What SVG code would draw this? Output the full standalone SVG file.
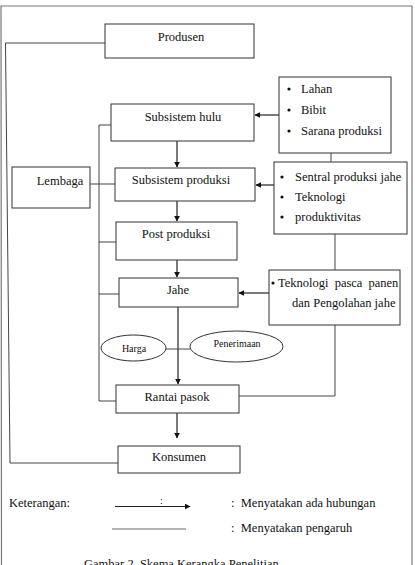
<svg xmlns="http://www.w3.org/2000/svg" width="415" height="565" viewBox="0 0 415 565">
<style>
.box{fill:#fff;stroke:#333;stroke-width:1}
.t{font-family:'Liberation Serif','Times New Roman','DejaVu Serif',serif;font-size:12.5px;fill:#111}
.s{font-family:'Liberation Serif','Times New Roman','DejaVu Serif',serif;font-size:10px;fill:#111}
.ln{fill:none;stroke:#444;stroke-width:1}
.ar{fill:none;stroke:#222;stroke-width:1.2;marker-end:url(#ah)}
.frame{fill:none;stroke:#777;stroke-width:1.2}
</style>
<defs>
<marker id="ah" viewBox="0 0 10 10" refX="9" refY="5" markerWidth="6" markerHeight="6" markerUnits="userSpaceOnUse" orient="auto">
<path d="M0,0 L10,5 L0,10 z" fill="#111"/>
</marker>
</defs>
<rect width="415" height="565" fill="#fff"/>
<g id="frame">
<polyline class="frame" points="1.5,565 1,6 412,6 412,565"/>
</g>
<g id="connectors">
<polyline class="ln" points="105,43 5.5,43 10,463 118,463"/>
<line class="ar" x1="279" y1="115" x2="255" y2="115"/>
<line class="ar" x1="177" y1="141" x2="177" y2="167"/>
<line class="ar" x1="274" y1="185" x2="256" y2="185"/>
<line class="ar" x1="177" y1="201" x2="177" y2="221"/>
<line class="ar" x1="177" y1="260" x2="177" y2="277"/>
<line class="ar" x1="269" y1="293" x2="239" y2="293"/>
<line class="ar" x1="178" y1="307" x2="178" y2="384"/>
<line class="ar" x1="177" y1="413" x2="177" y2="438"/>
<line class="ln" x1="331" y1="153" x2="331" y2="162"/>
<line class="ln" x1="335" y1="234" x2="335" y2="270"/>
<polyline class="ln" points="335,325 335,396 239,396"/>
<polyline class="ln" points="111,125 99,125 99,401 116,401"/>
<line class="ln" x1="90" y1="184" x2="115" y2="184"/>
<line class="ln" x1="99" y1="242" x2="116" y2="242"/>
<line class="ln" x1="99" y1="294" x2="119" y2="294"/>
<line class="ln" x1="166" y1="349" x2="190" y2="349"/>
</g>
<g id="produsen">
<rect class="box" x="105" y="24" width="149" height="34"/>
<text class="t" x="181" y="41" text-anchor="middle">Produsen</text>
</g>
<g id="input1">
<rect class="box" x="279" y="77" width="112" height="76"/>
<circle cx="289" cy="89" r="1.6" fill="#111"/>
<text class="t" x="301" y="93">Lahan</text>
<circle cx="289" cy="110" r="1.6" fill="#111"/>
<text class="t" x="301" y="114">Bibit</text>
<circle cx="289" cy="131" r="1.6" fill="#111"/>
<text class="t" x="301" y="135">Sarana produksi</text>
</g>
<g id="subsistem-hulu">
<rect class="box" x="111" y="104" width="143" height="37"/>
<text class="t" x="183" y="121" text-anchor="middle">Subsistem hulu</text>
</g>
<g id="lembaga">
<rect class="box" x="12" y="167" width="78" height="41"/>
<text class="t" x="60" y="185" text-anchor="middle">Lembaga</text>
</g>
<g id="subsistem-produksi">
<rect class="box" x="115" y="168" width="140" height="33"/>
<text class="t" x="181" y="184" text-anchor="middle">Subsistem produksi</text>
</g>
<g id="input2">
<rect class="box" x="274" y="162" width="133" height="72"/>
<circle cx="282" cy="177" r="1.6" fill="#111"/>
<text class="t" x="295" y="181">Sentral produksi jahe</text>
<circle cx="282" cy="197" r="1.6" fill="#111"/>
<text class="t" x="295" y="201">Teknologi</text>
<circle cx="282" cy="217" r="1.6" fill="#111"/>
<text class="t" x="295" y="221">produktivitas</text>
</g>
<g id="post-produksi">
<rect class="box" x="116" y="222" width="121" height="38"/>
<text class="t" x="176" y="238" text-anchor="middle">Post produksi</text>
</g>
<g id="jahe">
<rect class="box" x="119" y="278" width="119" height="29"/>
<text class="t" x="178" y="294" text-anchor="middle">Jahe</text>
</g>
<g id="input3">
<rect class="box" x="269" y="270" width="131" height="55"/>
<circle cx="273" cy="283" r="1.6" fill="#111"/>
<text class="t" x="278" y="287" word-spacing="3">Teknologi pasca panen</text>
<text class="t" x="292" y="307">dan Pengolahan jahe</text>
</g>
<g id="harga">
<ellipse class="box" cx="133.5" cy="348" rx="32.5" ry="13"/>
<text class="s" x="134" y="352" text-anchor="middle">Harga</text>
</g>
<g id="penerimaan">
<ellipse class="box" cx="236.5" cy="346.5" rx="46.5" ry="15.5"/>
<text class="s" x="237" y="347" text-anchor="middle">Penerimaan</text>
</g>
<g id="rantai-pasok">
<rect class="box" x="116" y="385" width="123" height="28"/>
<text class="t" x="177" y="401" text-anchor="middle">Rantai pasok</text>
</g>
<g id="konsumen">
<rect class="box" x="118" y="446" width="122" height="27"/>
<text class="t" x="179" y="461" text-anchor="middle">Konsumen</text>
</g>
<g id="legend">
<text class="t" x="9" y="507">Keterangan:</text>
<line class="ar" x1="115" y1="506.5" x2="190" y2="506.5"/>
<text class="s" x="160" y="504" font-size="6">:</text>
<text class="t" x="231" y="507" xml:space="preserve">:  Menyatakan ada hubungan</text>
<line x1="112" y1="529" x2="186" y2="529" stroke="#999" stroke-width="1.6"/>
<text class="t" x="231" y="532" xml:space="preserve">:  Menyatakan pengaruh</text>
<text class="t" x="84" y="568">Gambar 2. Skema Kerangka Penelitian</text>
</g>
</svg>
